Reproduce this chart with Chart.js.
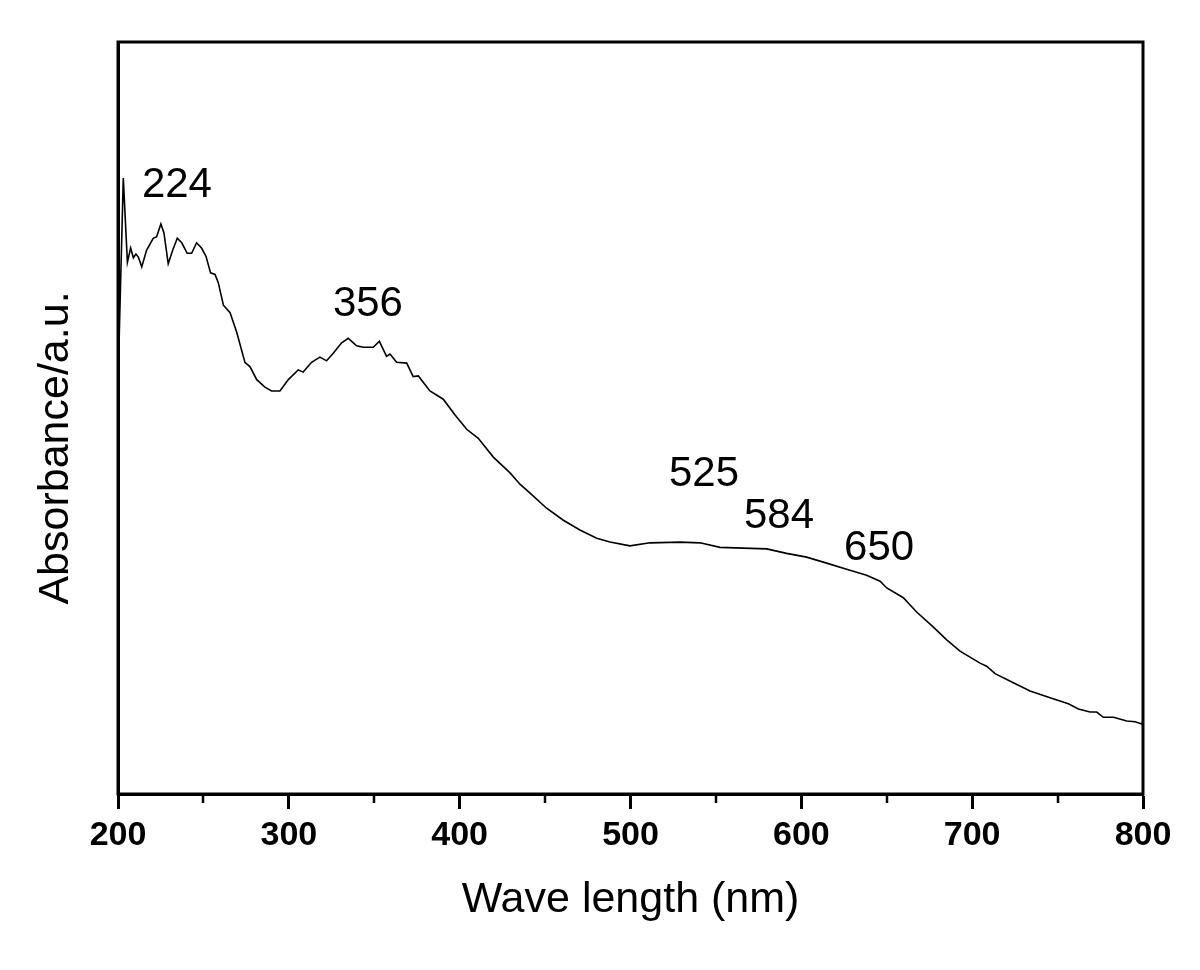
<!DOCTYPE html>
<html>
<head>
<meta charset="utf-8">
<script src="https://cdn.jsdelivr.net/npm/chart.js@4.4.0/dist/chart.umd.min.js"></script>
<style>
  body { margin: 0; background: #fff; }
  #wrap { width: 1200px; height: 970px; }
</style>
</head>
<body>
<div id="wrap"><canvas id="spectrum"></canvas></div>
<script>
// UV-Vis spectrum (absorbance in arbitrary units)
var wavelength = [200.2, 203.1, 205.5, 207.4, 209.0, 210.5, 211.9, 213.9, 216.7, 220.6,
	222.6, 225.1, 226.9, 229.4, 232.0, 234.7, 237.3, 240.5, 243.1, 246.0,
	248.9, 251.5, 254.2, 256.8, 258.7, 261.7, 265.6, 269.5, 274.3, 277.3,
	281.2, 286.0, 289.9, 294.8, 299.7, 305.5, 308.4, 313.3, 318.2, 322.1,
	326.0, 330.9, 334.8, 339.7, 343.6, 349.4, 353.0, 357.2, 359.2, 363.1,
	369.0, 372.8, 375.8, 382.6, 390.4, 397.3, 404.1, 410.9, 419.7, 429.5,
	435.3, 441.2, 450.9, 460.7, 470.4, 480.2, 488.0, 499.7, 511.4, 529.0,
	540.7, 552.4, 566.0, 579.7, 591.4, 603.1, 614.8, 626.5, 638.2, 646.1,
	650.0, 659.7, 667.5, 677.3, 685.1, 692.9, 704.6, 708.5, 713.4, 724.1,
	733.9, 745.6, 756.3, 762.2, 769.0, 772.9, 776.8, 782.7, 790.5, 795.4,
	799.3, 800.0];
var absorbance = [0.564, 0.819, 0.707, 0.726, 0.713, 0.718, 0.714, 0.701, 0.723, 0.739,
	0.741, 0.758, 0.746, 0.705, 0.723, 0.739, 0.733, 0.719, 0.719, 0.733,
	0.726, 0.715, 0.693, 0.691, 0.680, 0.650, 0.640, 0.614, 0.574, 0.568,
	0.551, 0.541, 0.536, 0.536, 0.551, 0.564, 0.561, 0.574, 0.581, 0.576,
	0.586, 0.600, 0.606, 0.596, 0.594, 0.594, 0.602, 0.582, 0.585, 0.574,
	0.573, 0.555, 0.556, 0.536, 0.525, 0.504, 0.485, 0.473, 0.448, 0.427,
	0.412, 0.400, 0.380, 0.364, 0.351, 0.340, 0.335, 0.330, 0.334, 0.335,
	0.334, 0.328, 0.327, 0.326, 0.320, 0.315, 0.307, 0.299, 0.291, 0.283,
	0.274, 0.261, 0.242, 0.222, 0.205, 0.190, 0.174, 0.170, 0.160, 0.148,
	0.137, 0.128, 0.120, 0.113, 0.109, 0.109, 0.102, 0.102, 0.097, 0.096,
	0.093, 0.098];
var minorTicks = [250, 350, 450, 550, 650, 750];
var peakLabels = ['224', '356', '525', '584', '650'];

var fontFamily = '"Liberation Sans", Arial, Helvetica, sans-serif';

// text anchors for the peak labels (nm, a.u.), baseline centred
var peakAnchors = [[234.5, 0.794], [346.3, 0.636], [543, 0.410], [586.9, 0.354], [645.5, 0.311]];

var points = wavelength.map(function(w, i) {
	return { x: w, y: absorbance[i] };
});

var decorations = {
	id: 'decorations',
	afterDraw: function(chart) {
		var ctx = chart.ctx;
		var area = chart.chartArea;
		var xs = chart.scales.x;
		var ys = chart.scales.y;
		ctx.save();

		// frame
		ctx.strokeStyle = '#000';
		ctx.lineWidth = 3;
		ctx.strokeRect(area.left, area.top, area.right - area.left, area.bottom - area.top);

		// minor ticks
		ctx.lineWidth = 2.5;
		minorTicks.forEach(function(v) {
			var px = Math.round(xs.getPixelForValue(v));
			ctx.beginPath();
			ctx.moveTo(px, area.bottom);
			ctx.lineTo(px, area.bottom + 9);
			ctx.stroke();
		});

		// peak labels
		ctx.fillStyle = '#000';
		ctx.font = '42px ' + fontFamily;
		ctx.textAlign = 'center';
		ctx.textBaseline = 'alphabetic';
		peakLabels.forEach(function(t, i) {
			ctx.fillText(t, xs.getPixelForValue(peakAnchors[i][0]), ys.getPixelForValue(peakAnchors[i][1]));
		});

		// axis titles
		ctx.font = '43px ' + fontFamily;
		ctx.textBaseline = 'middle';
		ctx.fillText('Wave length (nm)', (area.left + area.right) / 2, 900);
		ctx.translate(56, 448);
		ctx.rotate(-Math.PI / 2);
		ctx.fillText('Absorbance/a.u.', 0, 0);
		ctx.restore();
	}
};

window.onload = function() {
	var ctx = document.getElementById('spectrum').getContext('2d');
	window.spectrumChart = new Chart(ctx, {
		type: 'line',
		data: {
			datasets: [{
				label: 'Absorbance',
				data: points,
				borderColor: '#000',
				borderWidth: 1.6,
				pointRadius: 0,
				tension: 0,
				fill: false
			}]
		},
		options: {
			responsive: true,
			maintainAspectRatio: false,
			animation: false,
			layout: {
				padding: { top: 42, right: 57, left: 0, bottom: 0 }
			},
			plugins: {
				legend: { display: false },
				tooltip: { enabled: false }
			},
			scales: {
				x: {
					type: 'linear',
					min: 200,
					max: 800,
					afterFit: function(scale) { scale.height = 176; },
					ticks: {
						stepSize: 100,
						padding: 6,
						color: '#000',
						font: { family: fontFamily, size: 34, weight: 'bold' }
					},
					grid: {
						drawOnChartArea: false,
						tickLength: 15,
						tickWidth: 3,
						tickColor: '#000'
					},
					border: { display: true, color: '#000', width: 3 }
				},
				y: {
					min: 0,
					max: 1,
					afterFit: function(scale) { scale.width = 118; },
					ticks: { display: false },
					grid: { display: false },
					border: { display: true, color: '#000', width: 3 }
				}
			}
		},
		plugins: [decorations]
	});
};
</script>
</body>
</html>
